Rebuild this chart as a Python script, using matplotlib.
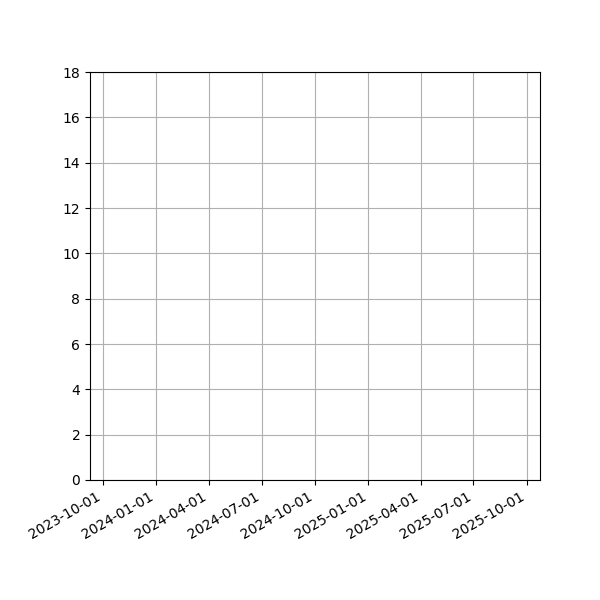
import matplotlib
matplotlib.use('Agg')
import matplotlib.pyplot as plt
import matplotlib.dates as mdates
import pandas as pd

# empty series: the reference shows only the axes and grid
dates = pd.to_datetime([])
values = []

x_start = pd.Timestamp('2023-09-09')
x_end = pd.Timestamp('2025-10-24')
y_min, y_max = 0, 18

fig, ax = plt.subplots(figsize=(6, 6), dpi=100)
ax.plot(dates, values)

ax.set_xlim(x_start, x_end)
ax.set_ylim(y_min, y_max)
ax.xaxis.set_major_locator(mdates.MonthLocator(bymonth=[1, 4, 7, 10]))
ax.xaxis.set_major_formatter(mdates.DateFormatter('%Y-%m-%d'))
ax.grid(True)

fig.autofmt_xdate()
fig.subplots_adjust(left=0.15)
fig.savefig('out.png')
